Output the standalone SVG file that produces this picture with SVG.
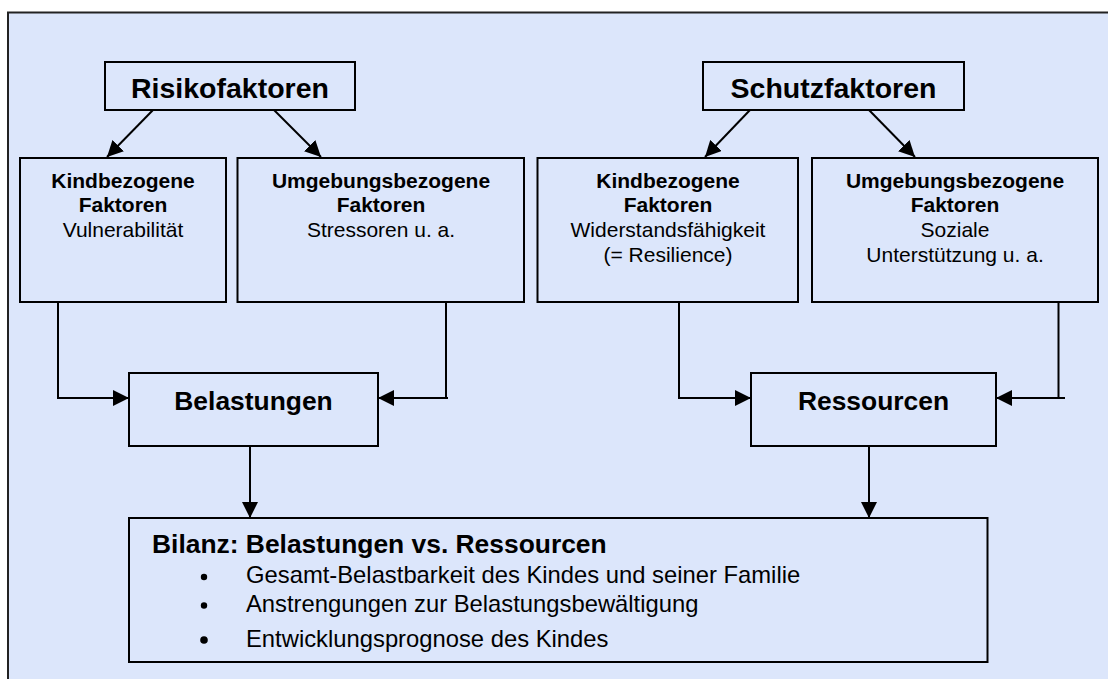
<svg xmlns="http://www.w3.org/2000/svg" width="1108" height="679" viewBox="0 0 1108 679">
<style>
.box{fill:#DCE6FB;stroke:#000;stroke-width:2}
.ln{fill:none;stroke:#000;stroke-width:2}
text{font-family:"Liberation Sans",Arial,sans-serif;fill:#000;text-anchor:middle}
.big{font-size:28.5px;font-weight:bold}
.mid{font-size:26.4px;font-weight:bold}
.hd{font-size:21px;font-weight:bold}
.tx{font-size:21px}
.bl{font-size:23.8px;text-anchor:start}
</style>
<defs>
<marker id="ah" viewBox="0 0 16 16" refX="16" refY="8" markerWidth="16" markerHeight="16" markerUnits="userSpaceOnUse" orient="auto">
<path d="M0,0 L16,8 L0,16 Z" fill="#000"/>
</marker>
</defs>
<rect x="0" y="0" width="1108" height="679" fill="#fff"/>
<rect id="frame" x="8" y="12.5" width="1120" height="690" fill="#DCE6FB" stroke="#222" stroke-width="2"/>
<g id="connectors">
<line class="ln" x1="153" y1="110" x2="107" y2="157" marker-end="url(#ah)"/>
<line class="ln" x1="274" y1="110" x2="321" y2="157" marker-end="url(#ah)"/>
<line class="ln" x1="750" y1="110" x2="705" y2="157" marker-end="url(#ah)"/>
<line class="ln" x1="869" y1="110" x2="915" y2="157" marker-end="url(#ah)"/>
<polyline class="ln" points="58,302 58,398 129,398" marker-end="url(#ah)"/>
<line class="ln" x1="446" y1="302" x2="446" y2="398"/>
<line class="ln" x1="448" y1="398" x2="378" y2="398" marker-end="url(#ah)"/>
<polyline class="ln" points="679,302 679,398 751,398" marker-end="url(#ah)"/>
<line class="ln" x1="1058.5" y1="302" x2="1058.5" y2="398"/>
<line class="ln" x1="1065" y1="398" x2="996" y2="398" marker-end="url(#ah)"/>
<line class="ln" x1="250" y1="446" x2="250" y2="518" marker-end="url(#ah)"/>
<line class="ln" x1="869" y1="446" x2="869" y2="518" marker-end="url(#ah)"/>
</g>
<g id="risikofaktoren">
<rect class="box" x="105" y="62" width="250" height="48"/>
<text class="big" x="230" y="98">Risikofaktoren</text>
</g>
<g id="schutzfaktoren">
<rect class="box" x="703" y="62" width="261" height="48"/>
<text class="big" x="833.5" y="98">Schutzfaktoren</text>
</g>
<g id="risk-kind">
<rect class="box" x="20" y="158" width="206" height="144"/>
<text class="hd" x="123" y="188">Kindbezogene</text>
<text class="hd" x="123" y="212">Faktoren</text>
<text class="tx" x="123" y="237">Vulnerabilität</text>
</g>
<g id="risk-umgebung">
<rect class="box" x="237.5" y="158" width="286.5" height="144"/>
<text class="hd" x="381" y="188">Umgebungsbezogene</text>
<text class="hd" x="381" y="212">Faktoren</text>
<text class="tx" x="381" y="237">Stressoren u. a.</text>
</g>
<g id="schutz-kind">
<rect class="box" x="537.5" y="158" width="260.5" height="144"/>
<text class="hd" x="668" y="188">Kindbezogene</text>
<text class="hd" x="668" y="212">Faktoren</text>
<text class="tx" x="668" y="237">Widerstandsfähigkeit</text>
<text class="tx" x="668" y="262">(= Resilience)</text>
</g>
<g id="schutz-umgebung">
<rect class="box" x="812" y="158" width="286" height="144"/>
<text class="hd" x="955" y="188">Umgebungsbezogene</text>
<text class="hd" x="955" y="212">Faktoren</text>
<text class="tx" x="955" y="237">Soziale</text>
<text class="tx" x="955" y="262">Unterstützung u. a.</text>
</g>
<g id="belastungen">
<rect class="box" x="129" y="373" width="249" height="73"/>
<text class="mid" x="253.5" y="410">Belastungen</text>
</g>
<g id="ressourcen">
<rect class="box" x="751" y="373" width="245" height="73"/>
<text class="mid" x="873.5" y="410">Ressourcen</text>
</g>
<g id="bilanz">
<rect class="box" x="129" y="518" width="858.5" height="144"/>
<text class="mid" x="152" y="553" style="text-anchor:start">Bilanz: Belastungen vs. Ressourcen</text>
<circle cx="204" cy="577" r="3.2"/>
<circle cx="204" cy="605.5" r="3.2"/>
<circle cx="204" cy="640" r="3.8"/>
<text class="bl" x="246" y="583">Gesamt-Belastbarkeit des Kindes und seiner Familie</text>
<text class="bl" x="246" y="612">Anstrengungen zur Belastungsbewältigung</text>
<text class="bl" x="246" y="647">Entwicklungsprognose des Kindes</text>
</g>
</svg>
